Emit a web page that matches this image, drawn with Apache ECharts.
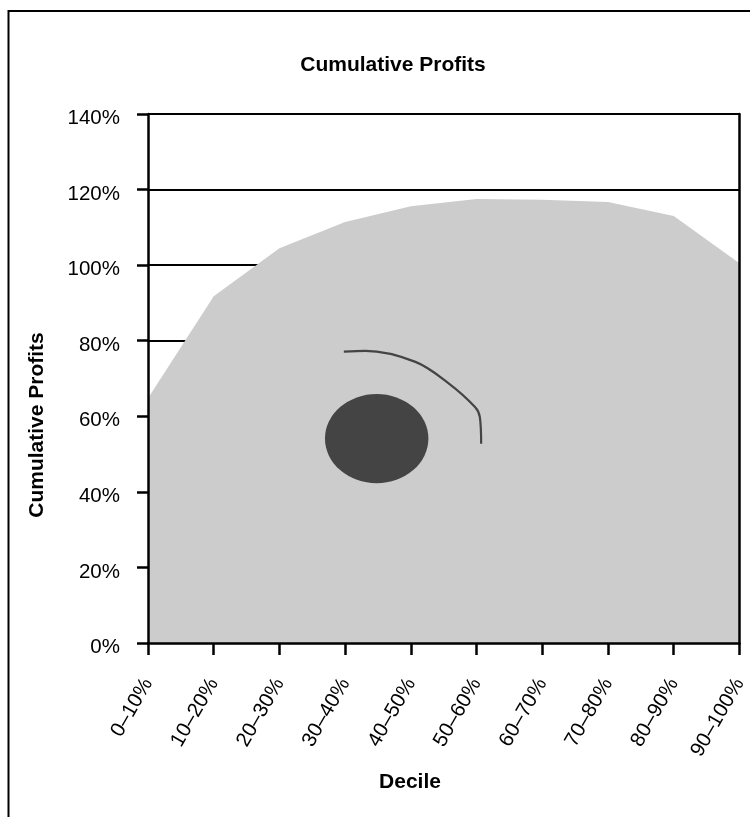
<!DOCTYPE html>
<html>
<head>
<meta charset="utf-8">
<script src="https://cdn.jsdelivr.net/npm/echarts@6/dist/echarts.min.js"></script>
<style>
html,body{margin:0;padding:0;background:#fff;}
#chart{width:750px;height:817px;}
</style>
</head>
<body>
<div id="chart"></div>
<script>
// ---- data ----
var deciles = ['0–10%','10–20%','20–30%','30–40%','40–50%','50–60%','60–70%','70–80%','80–90%','90–100%'];
var cumulativeProfits = [64.8, 91.8, 104.5, 111.4, 115.6, 117.5, 117.3, 116.7, 113.0, 100.5];
var yTicks = [0, 20, 40, 60, 80, 100, 120, 140];
// annotation sketch (in decile-index / percent units)
var curvePoints = [[2.98, 77.1], [3.31, 77.3], [4.07, 74.4], [4.57, 68.8], [4.98, 62.4], [5.05, 59.8], [5.07, 52.7]];
var blob = [[3.48, 54.1, 0.787, 11.8]]; // centerX, centerY, radiusX, radiusY

var FONT = 'Liberation Sans, Arial, Helvetica, sans-serif';
var chart = echarts.init(document.getElementById('chart'), null, {renderer: 'canvas'});

var option = {
  animation: false,
  backgroundColor: '#ffffff',
  title: {
    text: 'Cumulative Profits',
    left: 388,
    textAlign: 'center',
    top: 50,
    textStyle: {fontFamily: FONT, fontSize: 21, fontWeight: 'bold', color: '#000'}
  },
  grid: {left: 148, right: 6, top: 114, bottom: 174, containLabel: false},
  xAxis: [{
    type: 'category',
    data: deciles,
    boundaryGap: false,
    z: 10,
    axisLine: {show: true, lineStyle: {color: '#000', width: 2.5}},
    axisTick: {show: true, length: 12, lineStyle: {color: '#000', width: 2.5}},
    axisLabel: {rotate: 60, margin: 37, fontFamily: FONT, fontSize: 20.5, color: '#000', interval: 0},
    splitLine: {show: false}
  }, {
    type: 'value',
    min: 0,
    max: deciles.length - 1,
    show: false
  }],
  yAxis: [{
    type: 'value',
    min: yTicks[0],
    max: yTicks[yTicks.length - 1],
    interval: yTicks[1] - yTicks[0],
    z: 0,
    axisLine: {show: false},
    axisTick: {show: false},
    axisLabel: {show: false},
    splitLine: {show: true, lineStyle: {color: '#000', width: 2}}
  }, {
    type: 'value',
    position: 'left',
    min: yTicks[0],
    max: yTicks[yTicks.length - 1],
    interval: yTicks[1] - yTicks[0],
    z: 10,
    axisLine: {show: true, lineStyle: {color: '#000', width: 2.5}},
    axisTick: {show: true, length: 11, lineStyle: {color: '#000', width: 2.5}},
    axisLabel: {formatter: '{value}%', margin: 28, fontFamily: FONT, fontSize: 20.5, color: '#000', verticalAlign: 'top', lineHeight: 9},
    splitLine: {show: false}
  }, {
    type: 'value',
    position: 'right',
    min: yTicks[0],
    max: yTicks[yTicks.length - 1],
    interval: yTicks[1] - yTicks[0],
    z: 10,
    axisLine: {show: true, lineStyle: {color: '#000', width: 2.5}},
    axisTick: {show: false},
    axisLabel: {show: false},
    splitLine: {show: false}
  }],
  series: [{
    name: 'Cumulative Profits',
    type: 'line',
    xAxisIndex: 0,
    yAxisIndex: 0,
    data: cumulativeProfits,
    symbol: 'none',
    lineStyle: {width: 0, color: '#cccccc'},
    areaStyle: {color: '#cccccc', opacity: 1},
    z: 2
  }, {
    type: 'line',
    xAxisIndex: 1,
    yAxisIndex: 0,
    data: curvePoints,
    smooth: 0.35,
    symbol: 'none',
    lineStyle: {color: '#444444', width: 2.2},
    z: 5
  }, {
    type: 'custom',
    xAxisIndex: 1,
    yAxisIndex: 0,
    data: blob,
    z: 5,
    renderItem: function (params, api) {
      var c = api.coord([api.value(0), api.value(1)]);
      var s = api.size([api.value(2), api.value(3)]);
      return {
        type: 'circle',
        x: c[0],
        y: c[1],
        scaleX: 1,
        scaleY: s[1] / s[0],
        shape: {cx: 0, cy: 0, r: s[0]},
        style: {fill: '#444444'}
      };
    }
  }],
  graphic: [{
    type: 'rect',
    shape: {x: 8.5, y: 11, width: 800, height: 850},
    style: {fill: 'none', stroke: '#000', lineWidth: 2},
    silent: true,
    z: 100
  }, {
    type: 'text',
    x: 37,
    y: 425,
    rotation: Math.PI / 2,
    style: {text: 'Cumulative Profits', font: 'bold 21px ' + FONT, fill: '#000', align: 'center', verticalAlign: 'middle'},
    z: 100
  }, {
    type: 'text',
    x: 410,
    y: 782,
    style: {text: 'Decile', font: 'bold 21px ' + FONT, fill: '#000', align: 'center', verticalAlign: 'middle'},
    z: 100
  }]
};
chart.setOption(option);
</script>
</body>
</html>
